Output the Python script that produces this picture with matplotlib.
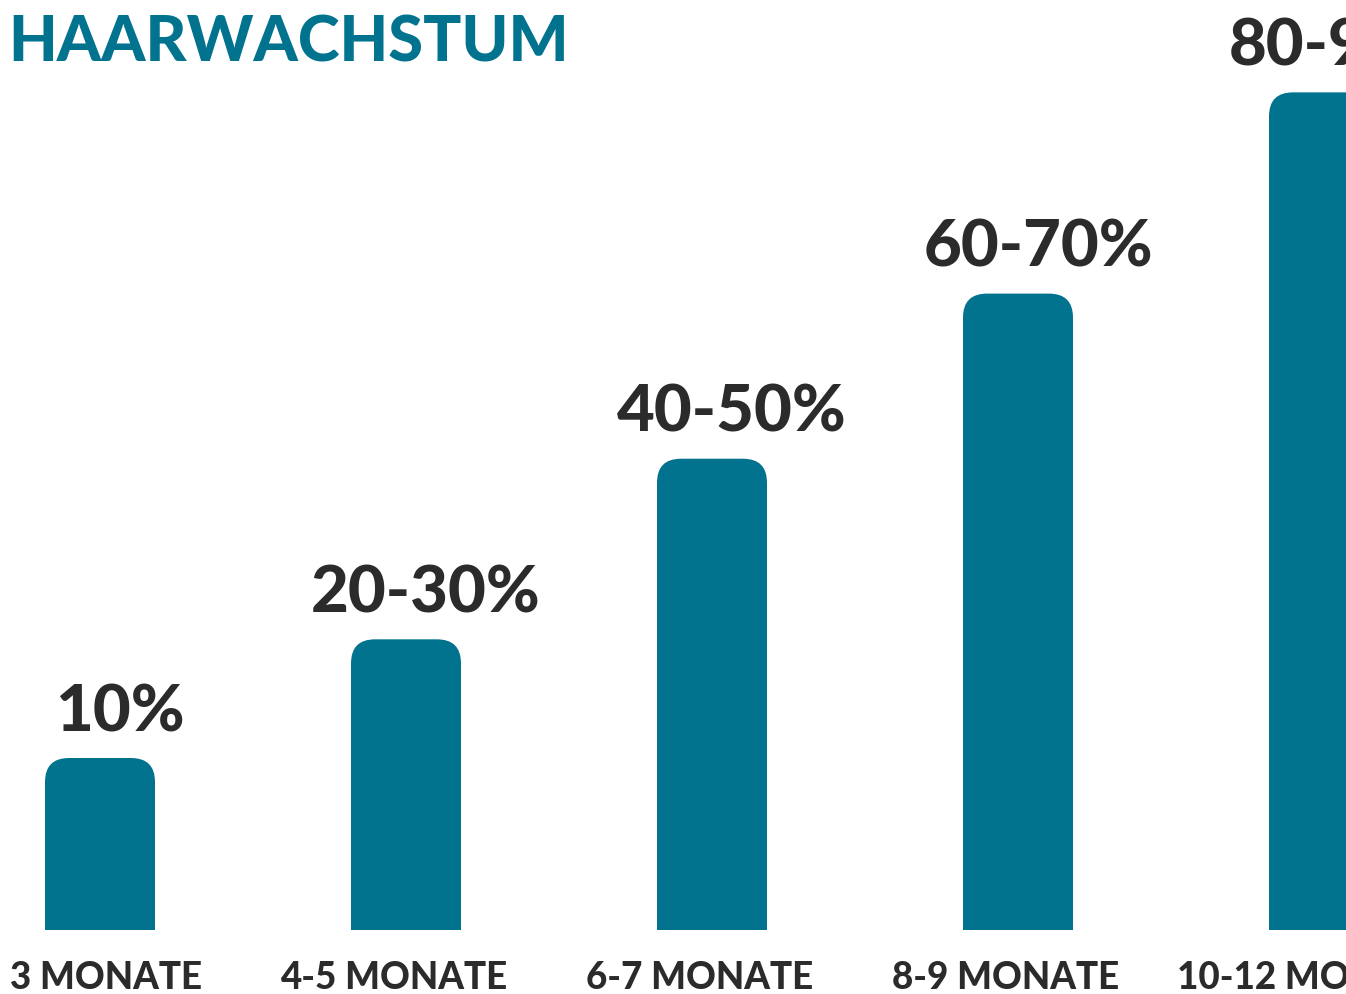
import numpy as np
import matplotlib.pyplot as plt
from matplotlib.patches import FancyBboxPatch, Rectangle

# Daten
monate = ['3 MONATE', '4-5 MONATE', '6-7 MONATE', '8-9 MONATE', '10-12 MONATE']
werte = [10, 16.9, 27.4, 37.0, 48.7]          # Balkenhoehen (relativ)
labels = ['10%', '20-30%', '40-50%', '60-70%', '80-90%']

teal = '#02738f'
dunkel = '#2b2b2b'
plt.rcParams['font.family'] = ['Lato', 'DejaVu Sans']

W, H = 1346, 994
fig = plt.figure(figsize=(W / 100, H / 100), dpi=100)
ax = fig.add_axes([0, 0, 1, 1])

# Pixel-Skalen
px_x = 306.0      # Pixel pro Kategorie
px_y = 17.2       # Pixel pro Werteinheit
x0_px = 100       # Mitte erster Balken
y0_px = 64        # Grundlinie von unten
ax.set_xlim(-x0_px / px_x, (W - x0_px) / px_x)
ax.set_ylim(-y0_px / px_y, (H - y0_px) / px_y)
ax.axis('off')

breite = 110 / px_x
r_px = 24
rx = r_px / px_x
ry = r_px / px_y

x = np.arange(len(monate))
for xi, h, lab, mon in zip(x, werte, labels, monate):
    left = xi - breite / 2
    # oben abgerundeter Balken
    ax.add_patch(FancyBboxPatch((left, 0), breite, h,
                                boxstyle=f'round,pad=0,rounding_size={rx}',
                                mutation_aspect=ry / rx, fc=teal, ec='none'))
    ax.add_patch(Rectangle((left, 0), breite, h / 2, fc=teal, ec='none'))
    ax.text(xi + 20 / px_x, h + 27 / px_y, lab, ha='center', va='baseline',
            fontsize=47, fontweight='black', color=dunkel)
    dx = 6 if xi == 0 else -12   # erste Beschriftung nicht abschneiden
    ax.text(xi + dx / px_x, -y0_px / px_y + 5 / px_y, mon, ha='center', va='baseline',
            fontsize=26.5, fontweight='black', color=dunkel)

fig.text(8 / W, 1 - 61 / H, 'HAARWACHSTUM', ha='left', va='baseline',
         fontsize=45.5, fontweight='black', color=teal)

fig.savefig('out.png', dpi=100)
